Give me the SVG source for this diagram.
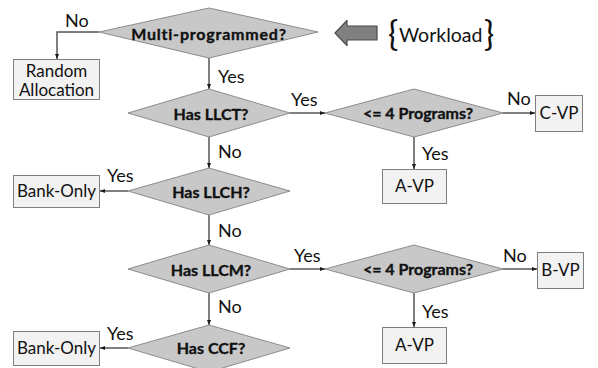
<svg xmlns="http://www.w3.org/2000/svg" width="598" height="368" viewBox="0 0 598 368">
  <defs>
    <marker id="arr" viewBox="0 0 10 10" refX="10" refY="5" markerWidth="5" markerHeight="5" orient="auto" markerUnits="userSpaceOnUse">
      <path d="M0,1 L10,5 L0,9 z" fill="#1a1a1a"/>
    </marker>
    <style>
      .dia { fill: #c8c8c8; stroke: #8c8c8c; stroke-width: 1; }
      .box { fill: #f2f2f2; stroke: #7f7f7f; stroke-width: 1; }
      .dt { font-family: Lato, "Liberation Sans", sans-serif; font-weight: bold; font-size: 16px; fill: #111; stroke: #111; stroke-width: 0.35; text-anchor: middle; }
      .bt { font-family: Lato, "Liberation Sans", sans-serif; font-size: 17px; fill: #111; text-anchor: middle; }
      .lb { font-family: Lato, "Liberation Sans", sans-serif; font-size: 18px; fill: #111; }
      .cn { fill: none; stroke: #555; stroke-width: 1.5; marker-end: url(#arr); }
    </style>
  </defs>
  <rect width="598" height="368" fill="#fff"/>

  <!-- connectors -->
  <g id="connectors">
    <path class="cn" d="M99,32 H57 V59"/>
    <path class="cn" d="M209,58 V89"/>
    <path class="cn" d="M290,113 H325"/>
    <path class="cn" d="M503,113 H535"/>
    <path class="cn" d="M414,137 V169"/>
    <path class="cn" d="M209,137 V168"/>
    <path class="cn" d="M128,191 H100"/>
    <path class="cn" d="M209,215 V245"/>
    <path class="cn" d="M290,269 H325"/>
    <path class="cn" d="M503,269 H537"/>
    <path class="cn" d="M414,293 V327"/>
    <path class="cn" d="M209,293 V325"/>
    <path class="cn" d="M128,348 H100"/>
  </g>

  <!-- edge labels -->
  <g id="edge-labels">
    <text class="lb" x="65" y="27">No</text>
    <text class="lb" x="218" y="83">Yes</text>
    <text class="lb" x="291" y="106">Yes</text>
    <text class="lb" x="507" y="105">No</text>
    <text class="lb" x="422" y="160">Yes</text>
    <text class="lb" x="218" y="158">No</text>
    <text class="lb" x="107" y="182">Yes</text>
    <text class="lb" x="218" y="237">No</text>
    <text class="lb" x="294" y="262">Yes</text>
    <text class="lb" x="503" y="262">No</text>
    <text class="lb" x="422" y="318">Yes</text>
    <text class="lb" x="218" y="313">No</text>
    <text class="lb" x="107" y="340">Yes</text>
  </g>

  <!-- decision nodes -->
  <g id="multi-programmed">
    <polygon class="dia" points="99,32 209,8 318,32 209,58"/>
    <text class="dt" x="209" y="40" font-size="20" letter-spacing="0.8">Multi-programmed?</text>
  </g>
  <g id="has-llct">
    <polygon class="dia" points="128,113 209,89 290,113 209,137"/>
    <text class="dt" x="211" y="120">Has LLCT?</text>
  </g>
  <g id="programs-1">
    <polygon class="dia" points="325,113 414,89 503,113 414,137"/>
    <text class="dt" x="418" y="119">&lt;= 4 Programs?</text>
  </g>
  <g id="has-llch">
    <polygon class="dia" points="128,191 209,168 290,191 209,215"/>
    <text class="dt" x="211" y="198">Has LLCH?</text>
  </g>
  <g id="has-llcm">
    <polygon class="dia" points="128,269 209,245 290,269 209,293"/>
    <text class="dt" x="211" y="276">Has LLCM?</text>
  </g>
  <g id="programs-2">
    <polygon class="dia" points="325,269 414,245 503,269 414,293"/>
    <text class="dt" x="418" y="275">&lt;= 4 Programs?</text>
  </g>
  <g id="has-ccf">
    <polygon class="dia" points="128,348 209,325 290,348 209,372"/>
    <text class="dt" x="211" y="354">Has CCF?</text>
  </g>

  <!-- outcome nodes -->
  <g id="random-allocation">
    <rect class="box" x="13.5" y="59.5" width="86" height="40"/>
    <text class="bt" x="56.5" y="77">Random</text>
    <text class="bt" x="56.5" y="96">Allocation</text>
  </g>
  <g id="bank-only-1">
    <rect class="box" x="13.5" y="175.5" width="86" height="32"/>
    <text class="bt" x="56.5" y="197">Bank-Only</text>
  </g>
  <g id="c-vp">
    <rect class="box" x="535.5" y="95.5" width="47" height="36"/>
    <text class="bt" x="559" y="119">C-VP</text>
  </g>
  <g id="a-vp-1">
    <rect class="box" x="382.5" y="169.5" width="64" height="34"/>
    <text class="bt" x="414.5" y="192">A-VP</text>
  </g>
  <g id="b-vp">
    <rect class="box" x="537.5" y="252.5" width="46" height="36"/>
    <text class="bt" x="560.5" y="276">B-VP</text>
  </g>
  <g id="a-vp-2">
    <rect class="box" x="382.5" y="327.5" width="64" height="36"/>
    <text class="bt" x="414.5" y="351">A-VP</text>
  </g>
  <g id="bank-only-2">
    <rect class="box" x="13.5" y="331.5" width="86" height="34"/>
    <text class="bt" x="56.5" y="354">Bank-Only</text>
  </g>

  <!-- workload input -->
  <g id="workload">
    <polygon points="335,33 347,20.5 347,26 377,26 377,40 347,40 347,45.5" fill="#808080" stroke="#4a4a4a" stroke-width="1.2" stroke-linejoin="round"/>
    <text font-family="Lato, 'Liberation Sans', sans-serif" fill="#111">
      <tspan x="388" y="46" font-size="34">{</tspan>
      <tspan x="399" y="42" font-size="19.5">Workload</tspan>
      <tspan x="484" y="46" font-size="34">}</tspan>
    </text>
  </g>
</svg>
